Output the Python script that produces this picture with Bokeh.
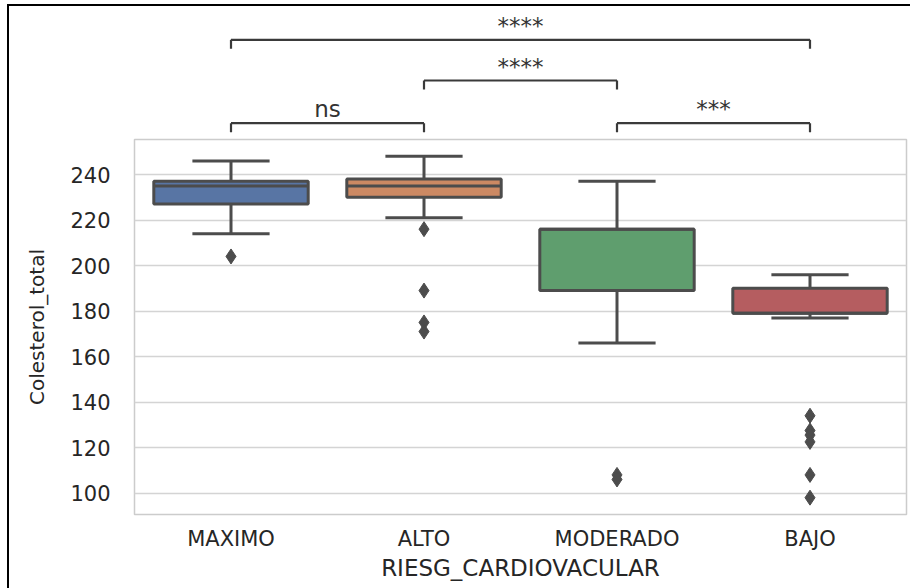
from bokeh.plotting import figure
from bokeh.models import FactorRange, Range1d, ColumnDataSource, FixedTicker, Column
from bokeh.transform import dodge
from bokeh.core.properties import value
from bokeh.embed import file_html
from bokeh.resources import INLINE

# ---------------- data ----------------
categories = ["MAXIMO", "ALTO", "MODERADO", "BAJO"]
q1 = [227, 230, 189, 179]
median = [235, 235, 216, 179]
q3 = [237, 238, 216, 190]
whisker_low = [214, 221, 166, 177]
whisker_high = [246, 248, 237, 196]
outlier_cat = ["MAXIMO",
               "ALTO", "ALTO", "ALTO", "ALTO",
               "MODERADO", "MODERADO",
               "BAJO", "BAJO", "BAJO", "BAJO", "BAJO", "BAJO"]
outlier_val = [204,
               216, 189, 175, 171,
               108, 106,
               134, 127.5, 125.5, 122.5, 108, 98]
box_colors = ["#5875a4", "#cc8963", "#5f9e6e", "#b55d60"]
y_ticks = [100, 120, 140, 160, 180, 200, 220, 240]
# statistical comparisons (pair, label)
comparisons = [("MAXIMO", "ALTO", "ns"),
               ("MODERADO", "BAJO", "***"),
               ("ALTO", "MODERADO", "****"),
               ("MAXIMO", "BAJO", "****")]

FONT = value("DejaVu Sans")
LINE = "#4c4c4c"
TXT = "#262626"

# ---------------- main box plot ----------------
p = figure(width=901, height=451, title=None,
           x_range=FactorRange(factors=categories),
           y_range=Range1d(90.6, 255.4),
           output_backend="svg", toolbar_location=None,
           min_border_left=125, min_border_right=4,
           min_border_top=2, min_border_bottom=74)

p.outline_line_color = "#cccccc"
p.outline_line_width = 1.5
p.xgrid.visible = False
p.ygrid.ticker = FixedTicker(ticks=y_ticks)
p.ygrid.grid_line_color = "#d4d4d4"
p.ygrid.grid_line_width = 1.5
p.background_fill_color = "white"
p.border_fill_color = "white"

for ax in (p.xaxis, p.yaxis):
    ax.axis_line_color = None
    ax.major_tick_line_color = None
    ax.minor_tick_line_color = None
    ax.major_tick_out = 0
    ax.major_tick_in = 0
    ax.major_label_text_font = "DejaVu Sans"
    ax.major_label_text_color = TXT
    ax.axis_label_text_font = "DejaVu Sans"
    ax.axis_label_text_font_style = "normal"
    ax.axis_label_text_color = TXT

p.yaxis.ticker = FixedTicker(ticks=y_ticks)
p.yaxis.major_label_text_font_size = "21px"
p.yaxis.major_label_standoff = 24
p.yaxis.axis_label = "Colesterol_total"
p.yaxis.axis_label_text_font_size = "20px"
p.yaxis.axis_label_standoff = 18

p.xaxis.major_label_text_font_size = "21px"
p.xaxis.major_label_standoff = 12
p.xaxis.axis_label = "RIESG_CARDIOVACULAR"
p.xaxis.axis_label_text_font_size = "23px"
p.xaxis.axis_label_standoff = 1

src = ColumnDataSource(dict(cat=categories, q1=q1, med=median, q3=q3,
                            lo=whisker_low, hi=whisker_high, color=box_colors))
xr = p.x_range
LW = 3

# whisker stems
p.segment(x0="cat", x1="cat", y0="q3", y1="hi", source=src, line_color=LINE, line_width=LW)
p.segment(x0="cat", x1="cat", y0="q1", y1="lo", source=src, line_color=LINE, line_width=LW)
# caps
p.segment(x0=dodge("cat", -0.2, range=xr), x1=dodge("cat", 0.2, range=xr),
          y0="hi", y1="hi", source=src, line_color=LINE, line_width=LW)
p.segment(x0=dodge("cat", -0.2, range=xr), x1=dodge("cat", 0.2, range=xr),
          y0="lo", y1="lo", source=src, line_color=LINE, line_width=LW)
# boxes
p.vbar(x="cat", width=0.8, bottom="q1", top="q3", source=src,
       fill_color="color", line_color=LINE, line_width=LW)
# medians
p.segment(x0=dodge("cat", -0.4, range=xr), x1=dodge("cat", 0.4, range=xr),
          y0="med", y1="med", source=src, line_color=LINE, line_width=LW)
# outliers
osrc = ColumnDataSource(dict(cat=outlier_cat, val=outlier_val))
p.scatter(x="cat", y="val", source=osrc, marker="diamond", size=15,
          fill_color=LINE, line_color=LINE, line_width=1)

# ---------------- significance brackets ----------------
top = figure(width=901, height=131, title=None,
             x_range=Range1d(0, len(categories)),
             y_range=Range1d(131, 0),
             output_backend="svg", toolbar_location=None,
             min_border_left=125, min_border_right=4,
             min_border_top=0, min_border_bottom=0)
top.axis.visible = False
top.grid.visible = False
top.outline_line_color = None
top.border_fill_color = "white"
top.background_fill_color = "white"

# vertical layout of bracket rows (pixels from top of this strip)
row_levels = {0: 116.7, 1: 74.0, 2: 33.3}
tip = 9
text_gap = 14
rows = [0, 0, 1, 2]
tx, ty, tl = [], [], []
sx0, sx1, sy0, sy1 = [], [], [], []
for (a, b, lab), r in zip(comparisons, rows):
    ia = categories.index(a) + 0.5
    ib = categories.index(b) + 0.5
    lvl = row_levels[r]
    sx0 += [ia, ia, ib]
    sx1 += [ib, ia, ib]
    sy0 += [lvl, lvl, lvl]
    sy1 += [lvl, lvl + tip, lvl + tip]
    tx.append((ia + ib) / 2)
    ty.append(lvl - text_gap)
    tl.append(lab)

top.segment(x0=sx0, x1=sx1, y0=sy0, y1=sy1, line_color="#3a3a3a", line_width=2.2)
top.text(x=tx, y=ty, text=tl, text_font=FONT, text_font_size="23px",
         text_color="#333333", text_align="center", text_baseline="alphabetic")

layout = Column(children=[top, p], margin=(4, 0, 0, 7),
                styles={"border-top": "2px solid black", "border-left": "2px solid black"})

open("out.html", "w").write(file_html(layout, INLINE))
